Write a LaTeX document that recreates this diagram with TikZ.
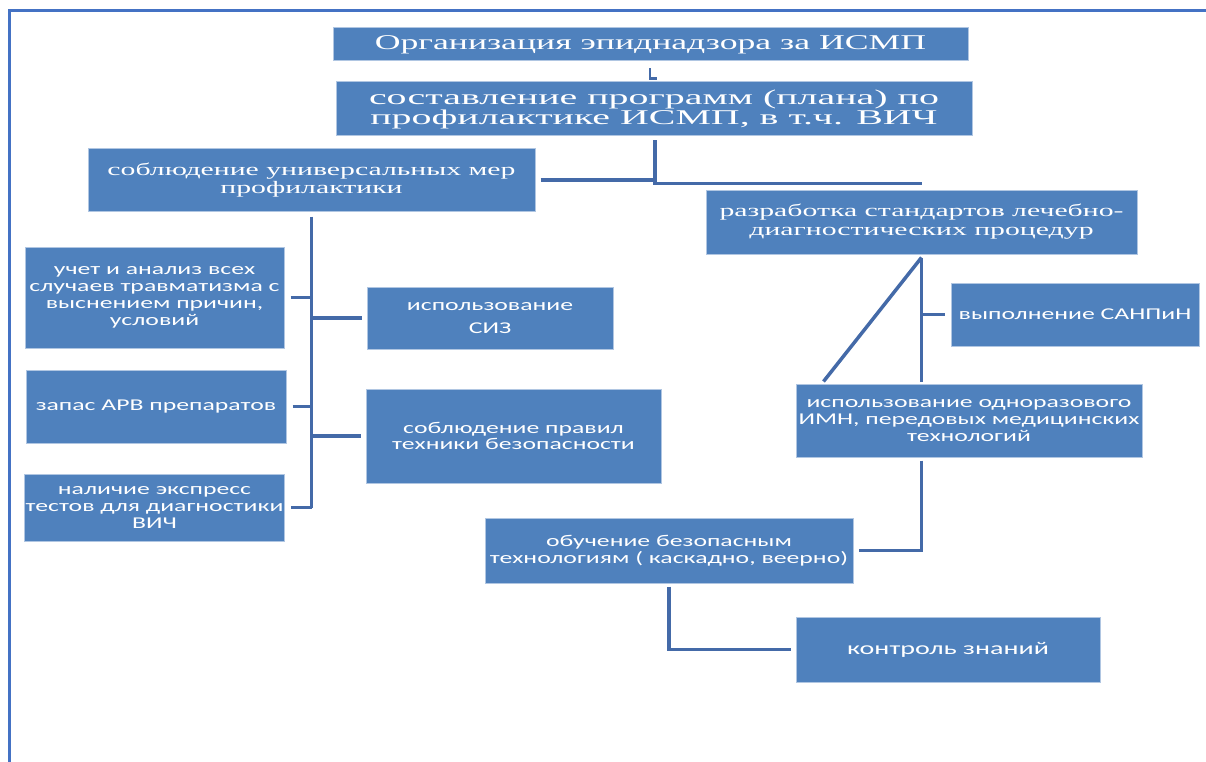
\documentclass[tikz,border=0pt]{standalone}
\usepackage{fontspec}
\usepackage{xcolor}
\usepackage{tikz}
\usetikzlibrary{calc,positioning}
\newfontfamily\serifwide[FakeStretch=1.7]{Liberation Serif}
\newfontfamily\serifwider[FakeStretch=1.9]{Liberation Serif}
\newfontfamily\sanswide[FakeStretch=1.56]{Carlito}
\definecolor{boxfill}{RGB}{79,129,189}
\definecolor{boxedge}{RGB}{176,198,226}
\definecolor{linkline}{RGB}{68,106,168}
\definecolor{frameline}{RGB}{68,114,196}
\newcommand{\headfont}{\serifwide\fontsize{21}{20}\selectfont}
\newcommand{\planfont}{\serifwider\fontsize{21}{20}\selectfont}
\newcommand{\midfont}{\serifwide\fontsize{17.5}{18.8}\selectfont}
\newcommand{\itemfont}{\sanswide\fontsize{16.5}{16.8}\selectfont}
\tikzset{
  headbox/.style={draw=boxedge, fill=boxfill, line width=1pt, text=white,
    align=center, inner sep=2pt, font=\headfont},
  midbox/.style={draw=boxedge, fill=boxfill, line width=1pt, text=white,
    align=center, inner sep=2pt, font=\midfont},
  itembox/.style={draw=boxedge, fill=boxfill, line width=1pt, text=white,
    align=center, inner sep=1pt, font=\itemfont},
  link/.style={draw=linkline, line width=3.5pt},
  frame/.style={draw=frameline, line width=3pt}
}

\begin{document}
\begin{tikzpicture}[x=1pt,y=-1pt]
  \useasboundingbox (0,0) rectangle (1206,762);
  \draw[frame] (1206,11) -- (9,11) -- (9,762);

  \node[headbox, minimum width=635, minimum height=33] (title) at (650.5,44.5)
    {Организация эпиднадзора за ИСМП};
  \node[headbox, font=\planfont, minimum width=636, minimum height=54] (plan) at (654,109)
    {составление программ (плана) по\\профилактике ИСМП, в т.ч. ВИЧ};
  \node[midbox, minimum width=447, minimum height=62] (univ) at (311.5,180)
    {соблюдение универсальных мер\\профилактики};
  \node[midbox, minimum width=431, minimum height=64] (std) at (921.5,222)
    {разработка стандартов лечебно-\\диагностических процедур};

  \node[itembox, minimum width=259, minimum height=101] (uchet) at (154.5,297.5)
    {учет и анализ всех\\случаев травматизма с\\выснением причин,\\условий};
  \node[itembox, minimum width=260, minimum height=73] (zapas) at (156,406.5)
    {запас АРВ препаратов};
  \node[itembox, minimum width=257, minimum height=67] (express) at (154.5,507.5)
    {наличие экспресс\\тестов для диагностики\\ВИЧ};
  \node[itembox, minimum width=246, minimum height=62] (siz) at (490,318)
    {использование\\[6pt]СИЗ};
  \node[itembox, minimum width=295, minimum height=94] (tb) at (513.5,436)
    {соблюдение правил\\техники безопасности};

  \node[itembox, minimum width=248, minimum height=63] (sanpin) at (1075,314.5)
    {выполнение САНПиН};
  \node[itembox, font=\sanswide\fontsize{16.5}{17}\selectfont,
    minimum width=346, minimum height=73] (imn) at (969,420.5)
    {использование одноразового\\ИМН, передовых медицинских\\технологий};
  \node[itembox, minimum width=368, minimum height=65] (obuch) at (669,550.5)
    {обучение безопасным\\технологиям ( каскадно, веерно)};
  \node[itembox, font=\sanswide\fontsize{18}{20}\selectfont,
    minimum width=304, minimum height=65] (kontrol) at (948,649.5)
    {контроль знаний};

  \draw[link, line width=2.5pt] ($(title.south)+(-0.5,7)$) |- ++(7,10);
  \draw[link] ($(plan.south)+(1,4)$) |- ($(std.north)+(0,-6)$);
  \draw[link] ($(univ.east)+(5,0)$) -- ($(univ.east -| plan.south)+(1,0)$);

  \draw[link] ($(univ.south)+(0,5)$) -- (univ.south |- express.east);
  \draw[link] ($(uchet.east)+(6,0)$) -- (uchet.east -| univ.south);
  \draw[link] ($(zapas.east)+(6,0)$) -- (zapas.east -| univ.south);
  \draw[link] ($(express.east)+(6,0)$) -- (express.east -| univ.south);
  \draw[link] (siz.west -| univ.south) -- ($(siz.west)+(-5,0)$);
  \draw[link] (tb.west -| univ.south) -- ($(tb.west)+(-5,0)$);

  \draw[link] ($(std.south)+(0,3)$) -- ($(std.south |- imn.north)+(0,-2)$);
  \draw[link] ($(std.south)+(0,3)$) -- ($(imn.north west)+(28,-2)$);
  \draw[link] (std.south |- sanpin.west) -- ($(sanpin.west)+(-6,0)$);
  \draw[link] ($(imn.south -| std.south)+(0,3)$) |- ($(obuch.east)+(5,0)$);
  \draw[link] ($(obuch.south)+(0,3)$) |- ($(kontrol.west)+(-5,0)$);
\end{tikzpicture}
\end{document}
